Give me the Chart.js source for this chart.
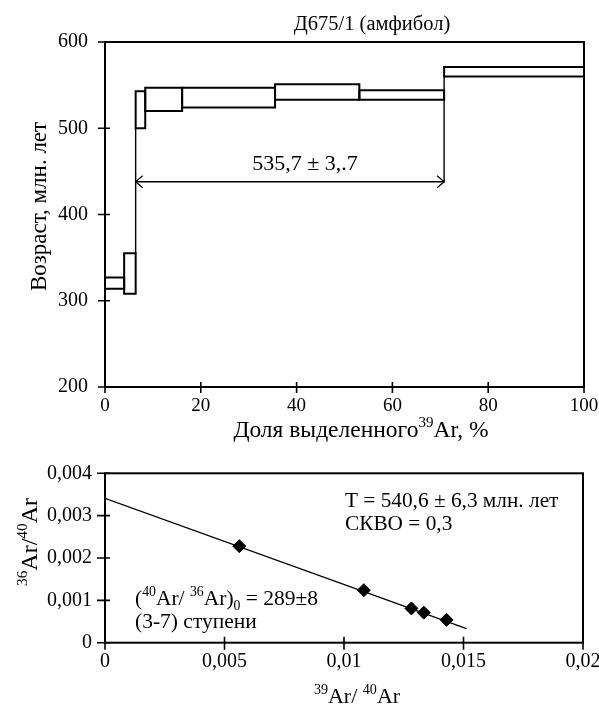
<!DOCTYPE html>
<html><head><meta charset="utf-8">
<script src="https://cdn.jsdelivr.net/npm/chart.js@4/dist/chart.umd.min.js"></script>
<style>
html,body{margin:0;padding:0;background:#fff;}
#w1{position:absolute;left:0;top:0;width:599px;height:445px;}
#w2{position:absolute;left:0;top:445px;width:599px;height:262px;}
</style></head><body>
<div id="w1"><canvas id="c1"></canvas></div>
<div id="w2"><canvas id="c2"></canvas></div>
<script>
// ---- Age spectrum (top) ----
const stepStart = [0, 4.0, 6.4, 8.4, 16.1, 35.5, 53.1, 70.8];
const stepEnd   = [4.0, 6.4, 8.4, 16.1, 35.5, 53.1, 70.8, 100];
const ageLow    = [314, 308, 500, 520, 524, 533, 533, 560];
const ageHigh   = [327, 355, 543, 547, 547, 551, 544, 571];
const markerX   = [6.4, 70.8];
const markerLo  = [355, 438];
const markerHi  = [500, 560];
const plateauRange = [6.4, 70.8];
const plateauAge = 438;
const plateauLabel = '535,7 ± 3,.7';
const ageTicks = [200, 300, 400, 500, 600];
const pctTicks = [0, 20, 40, 60, 80, 100];

// ---- Isochron (bottom) ----
const isoX = [0.00562, 0.01083, 0.01282, 0.01334, 0.01429];
const isoY = [0.00228, 0.00124, 0.00081, 0.00071, 0.00054];
const fitX = [0, 0.0151];
const fitY = [0.00341, 0.00034];
const ratioYTicks = [0, 0.001, 0.002, 0.003, 0.004];
const ratioXTicks = [0, 0.005, 0.01, 0.015, 0.02];

const FAMILY = '"Liberation Serif", "Times New Roman", serif';

function drawRich(ctx, parts, x, y, size, align, rot) {
  ctx.save();
  ctx.translate(x, y);
  if (rot) ctx.rotate(rot);
  ctx.fillStyle = '#000';
  ctx.textBaseline = 'alphabetic';
  ctx.textAlign = 'left';
  const fs = k => (k ? size * 0.64 : size);
  let w = 0;
  for (const [t, k] of parts) { ctx.font = fs(k) + 'px ' + FAMILY; w += ctx.measureText(t).width; }
  let cx = align === 'center' ? -w / 2 : 0;
  for (const [t, k] of parts) {
    ctx.font = fs(k) + 'px ' + FAMILY;
    const dy = k === 'sup' ? -size * 0.4 : (k === 'sub' ? size * 0.25 : 0);
    ctx.fillText(t, cx, dy);
    cx += ctx.measureText(t).width;
  }
  ctx.restore();
}

function fmt(v) { return String(Number(v.toFixed(6))).replace('.', ','); }

function frameTicks(inX, outX, inY, outY) {
  return {
    id: 'frameTicks',
    afterDatasetsDraw(chart) {
      const {ctx, chartArea: a, scales} = chart;
      ctx.save();
      ctx.strokeStyle = '#000';
      ctx.lineWidth = 2;
      ctx.strokeRect(a.left, a.top, a.right - a.left, a.bottom - a.top);
      ctx.lineWidth = 1.6;
      ctx.beginPath();
      for (const t of scales.x.ticks) {
        const p = scales.x.getPixelForValue(t.value);
        ctx.moveTo(p, a.bottom - inX); ctx.lineTo(p, a.bottom + outX);
      }
      for (const t of scales.y.ticks) {
        const p = scales.y.getPixelForValue(t.value);
        ctx.moveTo(a.left - outY, p); ctx.lineTo(a.left + inY, p);
      }
      ctx.stroke();
      ctx.restore();
    }
  };
}

function boxData(i) {
  return [
    {x: stepStart[i], y: ageLow[i]}, {x: stepStart[i], y: ageHigh[i]},
    {x: stepEnd[i], y: ageHigh[i]}, {x: stepEnd[i], y: ageLow[i]},
    {x: stepStart[i], y: ageLow[i]}
  ];
}

const lineDs = (data, w) => ({
  data, showLine: true, borderColor: '#000', borderWidth: w, pointRadius: 0,
  borderJoinStyle: 'miter', borderCapStyle: 'square', fill: false, tension: 0
});

const topDatasets = [];
for (let i = 0; i < stepStart.length; i++) topDatasets.push(lineDs(boxData(i), 2));
for (let i = 0; i < markerX.length; i++)
  topDatasets.push(lineDs([{x: markerX[i], y: markerLo[i]}, {x: markerX[i], y: markerHi[i]}], 1.4));
topDatasets.push(lineDs([{x: plateauRange[0], y: plateauAge}, {x: plateauRange[1], y: plateauAge}], 1.3));

const tickFont = size => ({family: FAMILY, size});
const noGrid = {display: false, drawTicks: false, tickLength: 0};

new Chart(document.getElementById('c1'), {
  type: 'scatter',
  data: {datasets: topDatasets},
  options: {
    responsive: true, maintainAspectRatio: false, animation: false,
    layout: {padding: {top: 42, right: 15, left: 0, bottom: 0}, autoPadding: false},
    plugins: {legend: {display: false}, tooltip: {enabled: false}, title: {display: false}},
    scales: {
      x: {
        type: 'linear', min: 0, max: 100,
        afterBuildTicks: s => { s.ticks = pctTicks.map(v => ({value: v})); },
        afterFit: s => { s.height = 58; s.paddingLeft = 0; s.paddingRight = 0; },
        grid: noGrid, border: {display: false},
        ticks: {color: '#000', font: tickFont(19), padding: 8, maxRotation: 0, callback: v => fmt(v)}
      },
      y: {
        type: 'linear', min: 200, max: 600,
        afterBuildTicks: s => { s.ticks = ageTicks.map(v => ({value: v})); },
        afterFit: s => { s.width = 105; },
        grid: noGrid, border: {display: false},
        ticks: {color: '#000', font: tickFont(20), padding: 17, callback: v => fmt(v)}
      }
    }
  },
  plugins: [frameTicks(5, 6, 5, 7), {
    id: 'topTexts',
    afterDraw(chart) {
      const {ctx, scales: {x, y}} = chart;
      // arrow heads
      const ay = y.getPixelForValue(plateauAge);
      const x0 = x.getPixelForValue(plateauRange[0]);
      const x1 = x.getPixelForValue(plateauRange[1]);
      ctx.save();
      ctx.strokeStyle = '#000'; ctx.lineWidth = 1.3;
      ctx.beginPath();
      ctx.moveTo(x0 + 7, ay - 6); ctx.lineTo(x0, ay); ctx.lineTo(x0 + 7, ay + 6);
      ctx.moveTo(x1 - 7, ay - 6); ctx.lineTo(x1, ay); ctx.lineTo(x1 - 7, ay + 6);
      ctx.stroke();
      ctx.restore();
      drawRich(ctx, [[plateauLabel, '']], 305, 169.5, 22, 'center');
      drawRich(ctx, [['Д675/1 (амфибол)', '']], 372, 30, 20.5, 'center');
      drawRich(ctx, [['Возраст, млн. лет', '']], 46, 206.5, 23, 'center', -Math.PI / 2);
      drawRich(ctx, [['Доля выделенного', ''], ['39', 'sup'], ['Ar, %', '']], 361, 436.5, 23.5, 'center');
    }
  }]
});

new Chart(document.getElementById('c2'), {
  type: 'scatter',
  data: {datasets: [
    lineDs(fitX.map((v, i) => ({x: v, y: fitY[i]})), 1.3),
    {data: isoX.map((v, i) => ({x: v, y: isoY[i]})), pointStyle: 'rectRot', pointRadius: 6.5,
     backgroundColor: '#000', borderColor: '#000', borderWidth: 1, showLine: false}
  ]},
  options: {
    responsive: true, maintainAspectRatio: false, animation: false,
    layout: {padding: {top: 28.3, right: 16, left: 0, bottom: 0}, autoPadding: false},
    plugins: {legend: {display: false}, tooltip: {enabled: false}, title: {display: false}},
    scales: {
      x: {
        type: 'linear', min: 0, max: 0.02,
        afterBuildTicks: s => { s.ticks = ratioXTicks.map(v => ({value: v})); },
        afterFit: s => { s.height = 64.3; s.paddingLeft = 0; s.paddingRight = 0; },
        grid: noGrid, border: {display: false},
        ticks: {color: '#000', font: tickFont(20), padding: 7, maxRotation: 0, callback: v => fmt(v)}
      },
      y: {
        type: 'linear', min: 0, max: 0.004,
        afterBuildTicks: s => { s.ticks = ratioYTicks.map(v => ({value: v})); },
        afterFit: s => { s.width = 105; },
        grid: noGrid, border: {display: false},
        ticks: {color: '#000', font: tickFont(20), padding: 13, callback: v => fmt(v)}
      }
    }
  },
  plugins: [frameTicks(6, 7, 5, 8), {
    id: 'bottomTexts',
    afterDraw(chart) {
      const ctx = chart.ctx;
      drawRich(ctx, [['36', 'sup'], ['Ar/', ''], ['40', 'sup'], ['Ar', '']], 37, 97, 24, 'center', -Math.PI / 2);
      drawRich(ctx, [['39', 'sup'], ['Ar/ ', ''], ['40', 'sup'], ['Ar', '']], 357, 258, 22, 'center');
      drawRich(ctx, [['T = 540,6 ± 6,3 млн. лет', '']], 345, 62, 21.3, 'left');
      drawRich(ctx, [['СКВО = 0,3', '']], 345, 85, 21.3, 'left');
      drawRich(ctx, [['(', ''], ['40', 'sup'], ['Ar/ ', ''], ['36', 'sup'], ['Ar)', ''], ['0', 'sub'], [' = 289±8', '']], 135, 160, 21.5, 'left');
      drawRich(ctx, [['(3-7) ступени', '']], 135, 183, 21.5, 'left');
    }
  }]
});
</script>
</body></html>
